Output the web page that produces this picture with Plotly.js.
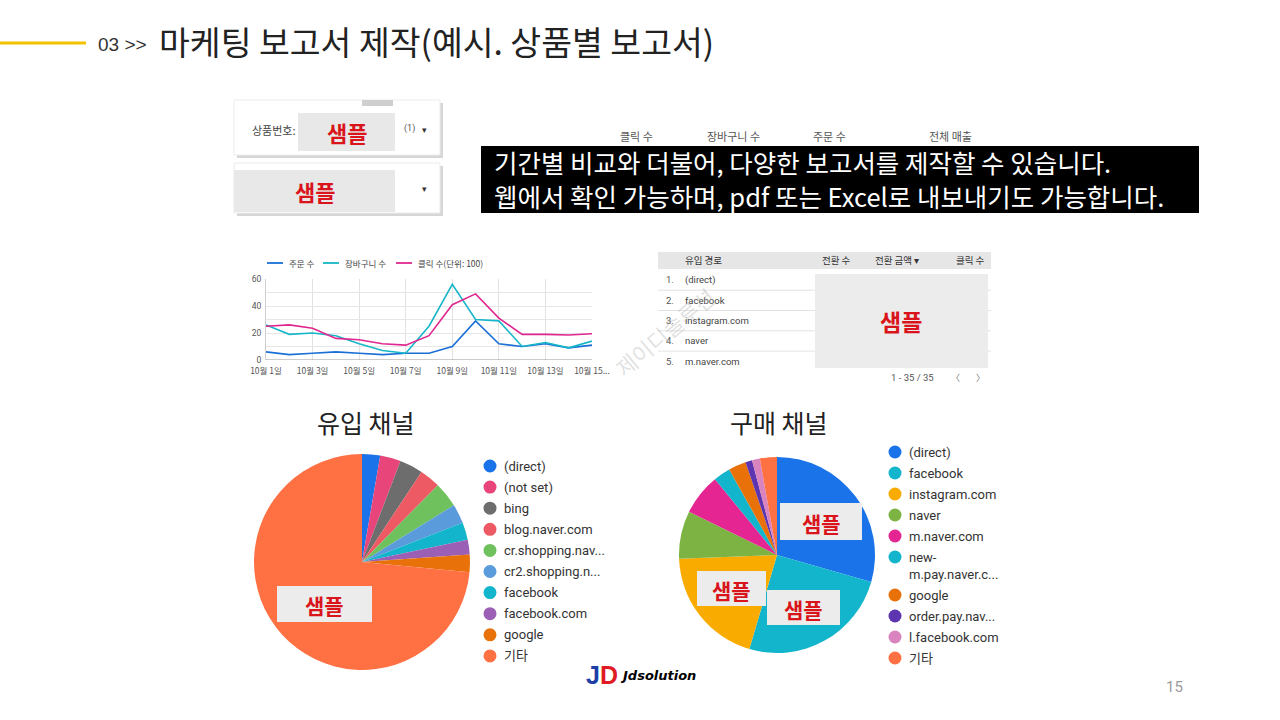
<!DOCTYPE html>
<html>
<head>
<meta charset="utf-8">
<script src="https://cdn.plot.ly/plotly-3.0.1.min.js"></script>
<style>html,body{margin:0;padding:0;background:#fff;}#chart{width:1280px;height:720px;}</style>
</head>
<body>
<div id="chart"></div>
<script>
// ---- data ----
const days = [1, 2, 3, 4, 5, 6, 7, 8, 9, 10, 11, 12, 13, 14, 15];
const dayTickVals = [1, 3, 5, 7, 9, 11, 13, 15];
const dayTickText = ["10월 1일", "10월 3일", "10월 5일", "10월 7일", "10월 9일", "10월 11일", "10월 13일", "10월 15..."];
const orders = [6, 4, 5, 6, 5, 4, 5, 5, 10, 29, 12, 10, 12, 9, 11];
const carts = [26, 19, 20, 18, 12, 7, 5, 25, 56, 30, 29, 10, 13, 9, 14];
const clicks = [25, 26, 23.5, 16, 15, 12, 11, 18, 41, 49, 31, 19, 19, 18.5, 19.5];
const lineNames = ["주문 수", "장바구니 수", "클릭 수(단위: 100)"];
const lineColors = ["#1a6fd6", "#17b6c8", "#e0278f"];

const inflowLabels = ["(direct)", "(not set)", "bing", "blog.naver.com", "cr.shopping.nav...", "cr2.shopping.n...", "facebook", "facebook.com", "google", "기타"];
const inflowValues = [2.7, 3.1, 3.5, 3.1, 3.8, 2.9, 2.6, 2.2, 2.6, 73.5];
const inflowColors = ["#1a73e8", "#e8457a", "#6d6d6d", "#ee5a64", "#6fc15e", "#5a9bdc", "#12b5cb", "#9b5fb5", "#e8710a", "#ff7043"];

const buyLabels = ["(direct)", "facebook", "instagram.com", "naver", "m.naver.com", "new-<br>m.pay.naver.c...", "google", "order.pay.nav...", "l.facebook.com", "기타"];
const buyValues = [29.4, 25.1, 19.8, 7.9, 6.8, 2.8, 2.9, 1.1, 1.3, 2.8];
const buyColors = ["#1a73e8", "#12b5cb", "#f9ab00", "#7cb342", "#e52592", "#12b5cb", "#e8710a", "#5e35b1", "#d984be", "#ff7043"];

const tableHeader = ["유입 경로", "전환 수", "전환 금액 ▾", "클릭 수"];
const tableRows = ["(direct)", "facebook", "instagram.com", "naver", "m.naver.com"];
const metricLabels = ["클릭 수", "장바구니 수", "주문 수", "전체 매출"];

// ---- helpers (pixel -> paper) ----
const W = 1280, H = 720;
const px = x => x / W;
const py = y => 1 - y / H;
const KR = "'Noto Sans CJK KR', sans-serif";
const RB = "Roboto, 'Noto Sans CJK KR', sans-serif";

const shapes = [];
const annotations = [];
function rect(x0, y0, x1, y1, fill, line, lw) {
  shapes.push({type: 'rect', xref: 'paper', yref: 'paper', x0: px(x0), x1: px(x1), y0: py(y1), y1: py(y0),
    fillcolor: fill, line: {color: line || fill, width: lw === undefined ? 0 : lw}, layer: 'below'});
}
function hline(x0, x1, y, color, w, layer) {
  shapes.push({type: 'line', xref: 'paper', yref: 'paper', x0: px(x0), x1: px(x1), y0: py(y), y1: py(y),
    line: {color: color, width: w}, layer: layer || 'above'});
}
function circle(cx, cy, r, color) {
  shapes.push({type: 'circle', xref: 'paper', yref: 'paper', x0: px(cx - r), x1: px(cx + r), y0: py(cy + r), y1: py(cy - r),
    fillcolor: color, line: {width: 0}});
}
function text(x, y, t, size, color, opts) {
  annotations.push(Object.assign({xref: 'paper', yref: 'paper', x: px(x), y: py(y), text: t, showarrow: false,
    xanchor: 'left', yanchor: 'middle', font: {family: KR, size: size, color: color}}, opts || {}));
}

// header
hline(0, 86, 43, '#f2c200', 3);
text(96, 44, "03 &gt;&gt;", 18, '#333', {font: {family: "'Liberation Sans Narrow', 'Liberation Sans', sans-serif", size: 19, color: '#333'}});
text(157, 40, "마케팅 보고서 제작(예시. 상품별 보고서)", 33.5, '#222');

// filter cards
rect(237, 103, 443, 158, '#d6d6d6');
rect(234, 100, 440, 155, '#ffffff', '#ebebeb', 1);
rect(362, 100, 393, 106, '#cfcfcf');
rect(298, 113, 395, 151, '#e8e8e8');
text(250, 130, "상품번호:", 11, '#444');
text(347, 132, "<b>샘플</b>", 22, '#d9141b', {xanchor: 'center'});
text(402, 128, "(1)", 9, '#555', {font: {family: RB, size: 9, color: '#555'}});
text(424, 129, "▾", 9, '#333', {xanchor: 'center'});
rect(237, 166, 443, 216, '#d6d6d6');
rect(234, 163, 440, 213, '#ffffff', '#ebebeb', 1);
rect(234, 170, 395, 212, '#e8e8e8');
text(315, 191, "<b>샘플</b>", 22, '#d9141b', {xanchor: 'center'});
text(424, 189, "▾", 9, '#333', {xanchor: 'center'});

// metric labels and black box
const metricX = [636, 733, 829, 950];
metricLabels.forEach((m, i) => text(metricX[i], 136, m, 11, '#555', {xanchor: 'center'}));
rect(481, 146, 1199, 213, '#000000');
text(492, 162, "기간별 비교와 더불어, 다양한 보고서를 제작할 수 있습니다.", 25.5, '#ffffff');
text(492, 196, "웹에서 확인 가능하며, pdf 또는 Excel로 내보내기도 가능합니다.", 25.5, '#ffffff');

// line chart legend
const legX = [267, 323, 396];
lineNames.forEach((n, i) => {
  hline(legX[i], legX[i] + 16, 263, lineColors[i], 1.8);
  text(legX[i] + 20, 263, n, 8.5, '#444');
});

// table
rect(658, 252, 991, 269, '#e6e6e6');
text(683, 260, tableHeader[0], 9.5, '#333');
text(820, 260, tableHeader[1], 9.5, '#333');
text(873, 260, tableHeader[2], 9.5, '#333');
text(987, 260, tableHeader[3], 9.5, '#333', {xanchor: 'right'});
tableRows.forEach((r, i) => {
  const y = 280 + i * 20.3;
  text(664, y, (i + 1) + ".", 9.5, '#555', {font: {family: RB, size: 9.5, color: '#555'}});
  text(683, y, r, 9.5, '#444', {font: {family: RB, size: 9.5, color: '#444'}});
  if (i < tableRows.length - 1) hline(658, 991, y + 10.2, '#e3e3e3', 1, 'below');
});
rect(815, 274, 988, 368, '#ececec');
text(901, 321, "<b>샘플</b>", 23, '#d9141b', {xanchor: 'center'});
text(936, 377, "1 - 35 / 35", 9.5, '#555', {xanchor: 'right', font: {family: RB, size: 9.5, color: '#555'}});
text(955, 377, "〈", 9, '#777', {xanchor: 'center'});
text(980, 377, "〉", 9, '#777', {xanchor: 'center'});
text(664, 332, "제이디솔루션", 22, 'rgba(170,170,170,0.35)', {xanchor: 'center', textangle: -40});

// pie titles
text(366, 422, "유입 채널", 25, '#222', {xanchor: 'center'});
text(779, 422, "구매 채널", 25, '#222', {xanchor: 'center'});

// pie legends
inflowLabels.forEach((l, i) => {
  const y = 466 + i * 21.1;
  circle(490, y, 6.5, inflowColors[i]);
  text(502, y, l, 13, '#333', {font: {family: RB, size: 13, color: '#333'}});
});
let yy = 452;
buyLabels.forEach((l, i) => {
  circle(895, yy, 6.5, buyColors[i]);
  const twoLine = l.indexOf('<br>') >= 0;
  text(907, twoLine ? yy - 9 : yy, l, 13, '#333', {yanchor: twoLine ? 'top' : 'middle', align: 'left', font: {family: RB, size: 13, color: '#333'}});
  yy += twoLine ? 38 : 21;
});

// sample boxes on pies
function sample(x0, y0, x1, y1, size) {
  shapes.push({type: 'rect', xref: 'paper', yref: 'paper', x0: px(x0), x1: px(x1), y0: py(y1), y1: py(y0),
    fillcolor: '#ececec', line: {width: 0}, layer: 'above'});
  text((x0 + x1) / 2, (y0 + y1) / 2 + 1, "<b>샘플</b>", size, '#d9141b', {xanchor: 'center'});
}
sample(277, 586, 372, 622, 21);
sample(780, 503, 862, 540, 21);
sample(697, 571, 766, 606, 21);
sample(767, 590, 840, 625, 21);

// logo & page number
text(584, 675, "<b><span style='color:#1c3ea6'>J</span><span style='color:#e01b24'>D</span></b>", 24, '#000', {font: {family: "'Liberation Sans Narrow', 'Liberation Sans', sans-serif", size: 25, color: '#000'}});
text(618, 675, "<b><i>Jdsolution</i></b>", 13.5, '#000', {font: {family: "'DejaVu Sans', sans-serif", size: 13, color: '#000'}});
text(1174, 687, "15", 15, '#9a9a9a', {xanchor: 'center', font: {family: RB, size: 15, color: '#9a9a9a'}});

// ---- traces ----
const series = [orders, carts, clicks];
const traces = series.map((s, i) => ({
  type: 'scatter', mode: 'lines', x: days, y: s, name: lineNames[i],
  line: {color: lineColors[i], width: 1.6}, xaxis: 'x', yaxis: 'y', showlegend: false, hoverinfo: 'skip'
}));
traces.push({
  type: 'pie', labels: inflowLabels, values: inflowValues, sort: false, direction: 'clockwise', rotation: 0,
  marker: {colors: inflowColors, line: {width: 0}}, textinfo: 'none', showlegend: false, hoverinfo: 'skip',
  domain: {x: [px(254), px(470)], y: [py(670), py(454)]}
});
traces.push({
  type: 'pie', labels: buyLabels, values: buyValues, sort: false, direction: 'clockwise', rotation: 0,
  marker: {colors: buyColors, line: {width: 0}}, textinfo: 'none', showlegend: false, hoverinfo: 'skip',
  domain: {x: [px(679), px(875)], y: [py(653), py(457)]}
});

const layout = {
  width: W, height: H, margin: {l: 0, r: 0, t: 0, b: 0},
  paper_bgcolor: '#ffffff', plot_bgcolor: '#ffffff', showlegend: false,
  xaxis: {domain: [px(266), px(592)], range: [1, 15], tickvals: dayTickVals, ticktext: dayTickText,
    showgrid: true, gridcolor: '#e2e2e2', gridwidth: 1, zeroline: false, showline: false, ticks: '',
    ticklabelstandoff: 4,
    tickfont: {family: KR, size: 8.5, color: '#555'}, fixedrange: true},
  yaxis: {domain: [py(360), py(279)], range: [0, 60], tickvals: [0, 10, 20, 30, 40, 50, 60],
    ticktext: ['0', '', '20', '', '40', '', '60'], showgrid: true, gridcolor: '#e6e6e6', zeroline: false,
    showline: true, linecolor: '#cfcfcf', ticks: '', ticklabelstandoff: 2,
    tickfont: {family: RB, size: 8.5, color: '#555'}, fixedrange: true},
  shapes: shapes.concat([{type: 'line', xref: 'x', yref: 'y', x0: 1, x1: 15, y0: 0, y1: 0, line: {color: '#999', width: 1}}]),
  annotations: annotations
};

Plotly.newPlot('chart', traces, layout, {displayModeBar: false, staticPlot: true});
</script>
</body>
</html>
